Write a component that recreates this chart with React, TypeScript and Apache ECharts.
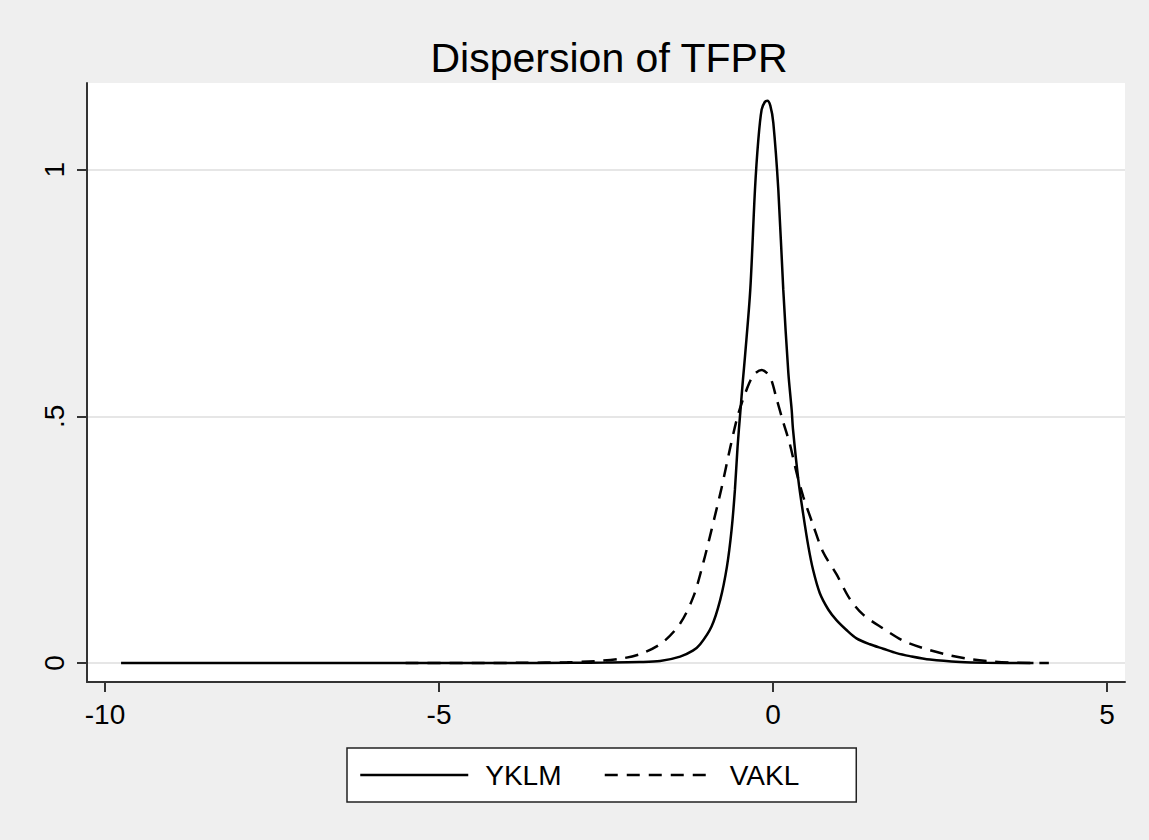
import React, { useEffect, useRef } from "react";
import * as echarts from "echarts";

const titleText = "Dispersion of TFPR";
const seriesNames = ["YKLM", "VAKL"];
const xTicks = [-10, -5, 0, 5];
const yTicks = [0, 0.5, 1];
const yTickLabels = ["0", ".5", "1"];

const yklm: [number, number][] = [
  [-9.76, 0], [-6, 0], [-4, 0], [-3, 0.0005], [-2.5, 0.001], [-2.0, 0.002],
  [-1.69, 0.004], [-1.39, 0.013], [-1.2, 0.025], [-1.09, 0.038], [-0.92, 0.074],
  [-0.79, 0.128], [-0.69, 0.195], [-0.62, 0.27], [-0.57, 0.351], [-0.53, 0.439],
  [-0.49, 0.507], [-0.45, 0.574], [-0.42, 0.62], [-0.34, 0.757], [-0.27, 0.959],
  [-0.22, 1.06], [-0.17, 1.122], [-0.12, 1.138], [-0.085, 1.14], [-0.04, 1.13],
  [0.005, 1.095], [0.08, 0.959], [0.154, 0.757], [0.23, 0.588], [0.28, 0.513],
  [0.3, 0.473], [0.38, 0.371], [0.45, 0.304], [0.53, 0.236], [0.6, 0.189],
  [0.7, 0.142], [0.83, 0.108], [0.95, 0.087], [1.1, 0.067], [1.25, 0.05],
  [1.45, 0.038], [1.65, 0.029], [1.85, 0.02], [2.05, 0.014], [2.35, 0.007],
  [2.8, 0.002], [3.2, 0.0005], [3.9, 0],
];

const vakl: [number, number][] = [
  [-5.5, 0], [-4.5, 0], [-3.74, 0.0005], [-3.08, 0.0015], [-2.63, 0.004],
  [-2.25, 0.0095], [-1.95, 0.02], [-1.65, 0.042], [-1.39, 0.08], [-1.19, 0.135],
  [-1.04, 0.205], [-0.92, 0.27], [-0.77, 0.355], [-0.64, 0.437], [-0.52, 0.505],
  [-0.39, 0.556], [-0.29, 0.584], [-0.17, 0.594], [-0.045, 0.58], [0.055, 0.535],
  [0.154, 0.488], [0.25, 0.445], [0.355, 0.385], [0.454, 0.337], [0.6, 0.28],
  [0.75, 0.225], [0.95, 0.18], [1.15, 0.13], [1.35, 0.098], [1.65, 0.07],
  [1.95, 0.045], [2.25, 0.03], [2.6, 0.017], [2.95, 0.008], [3.29, 0.003],
  [3.65, 0.0005], [4.13, 0],
];

const FONT = "'Liberation Sans', Arial, sans-serif";

export default function App() {
  const ref = useRef<HTMLDivElement>(null);
  useEffect(() => {
    document.body.style.margin = "0";
    const chart = echarts.init(ref.current!, null, { renderer: "svg" });
    chart.setOption({
      animation: false,
      backgroundColor: "#efefef",
      textStyle: { fontFamily: FONT },
      title: {
        text: titleText,
        left: 604,
        top: 32,
        textAlign: "center",
        textStyle: { fontSize: 41, fontWeight: "normal", color: "#000", fontFamily: FONT },
      },
      grid: {
        left: 87,
        right: 24,
        top: 83,
        bottom: 158,
        show: true,
        backgroundColor: "#ffffff",
        borderWidth: 0,
        containLabel: false,
      },
      legend: {
        left: 347,
        top: 748,
        padding: [13, 57, 13, 12],
        borderColor: "#222",
        borderWidth: 1.5,
        backgroundColor: "#ffffff",
        itemWidth: 108,
        itemHeight: 28,
        itemGap: 42,
        data: seriesNames,
        itemStyle: { color: "transparent", borderColor: "transparent", borderWidth: 0, opacity: 0 },
        lineStyle: { width: 2.5 },
        textStyle: { fontSize: 28, color: "#000", fontFamily: FONT, padding: [0, 0, 0, 12] },
      },
      xAxis: {
        type: "value",
        min: -10.27,
        max: 5.27,
        axisLine: { show: true, onZero: false, lineStyle: { color: "#333", width: 2 } },
        axisTick: { show: true, customValues: xTicks, length: 10, lineStyle: { color: "#333", width: 2 } },
        axisLabel: {
          customValues: xTicks,
          fontSize: 28,
          color: "#000",
          fontFamily: FONT,
          margin: 18,
          formatter: (v: number) => String(v),
        },
        splitLine: { show: false },
      },
      yAxis: {
        type: "value",
        min: -0.0385,
        max: 1.176,
        axisLine: { show: true, onZero: false, lineStyle: { color: "#333", width: 2 } },
        axisTick: { show: true, customValues: yTicks, length: 10, lineStyle: { color: "#333", width: 2 } },
        axisLabel: {
          customValues: yTicks,
          fontSize: 28,
          color: "#000",
          fontFamily: FONT,
          rotate: 90,
          margin: 19,
          formatter: (v: number) => {
            const i = yTicks.findIndex((t) => Math.abs(t - v) < 1e-6);
            return i >= 0 ? yTickLabels[i] : "";
          },
        },
        splitLine: { show: true, lineStyle: { color: "#e6e6e6", width: 2 } },
      },
      series: [
        {
          name: seriesNames[0],
          type: "line",
          data: yklm,
          symbol: "none",
          smooth: 0.3,
          lineStyle: { color: "#000", width: 2.5, type: "solid" },
          itemStyle: { color: "#000" },
          z: 3,
        },
        {
          name: seriesNames[1],
          type: "line",
          data: vakl,
          symbol: "none",
          smooth: 0.3,
          lineStyle: { color: "#000", width: 2.5, type: [13, 9] },
          itemStyle: { color: "#000" },
          z: 2,
        },
      ],
    });
    return () => chart.dispose();
  }, []);
  return <div ref={ref} style={{ width: 1149, height: 840 }} />;
}
